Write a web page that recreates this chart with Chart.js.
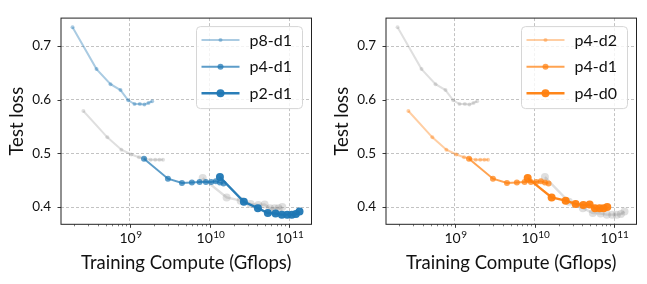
<!DOCTYPE html>
<html>
<head>
<meta charset="utf-8">
<script src="https://cdn.jsdelivr.net/npm/chart.js@4.4.0/dist/chart.umd.min.js"></script>
<style>
  html, body { margin: 0; padding: 0; background: #fff; }
  .wrap { position: absolute; top: 0; width: 322px; height: 284px; }
  #left { left: 0; }
  #right { left: 325px; }
</style>
</head>
<body>
<div class="wrap" id="left"><canvas id="chartLeft"></canvas></div>
<div class="wrap" id="right"><canvas id="chartRight"></canvas></div>
<script>
// data (training compute in Gflops, test loss)
const p8d1X = [1.9e8, 3.8e8, 5.7e8, 7.6e8, 9.5e8, 1.14e9, 1.33e9, 1.52e9, 1.71e9, 1.9e9];
const p8d1Y = [0.735, 0.657, 0.629, 0.618, 0.599, 0.592, 0.592, 0.591, 0.594, 0.597];
const p4d1X = [1.5e9, 3.0e9, 4.5e9, 6.0e9, 7.5e9, 9.0e9, 1.05e10, 1.2e10, 1.35e10, 1.5e10];
const p4d1Y = [0.490, 0.453, 0.445, 0.446, 0.447, 0.447, 0.447, 0.448, 0.446, 0.444];
const p2d1X = [1.35e10, 2.7e10, 4.05e10, 5.4e10, 6.75e10, 8.1e10, 9.45e10, 1.08e11, 1.215e11, 1.35e11];
const p2d1Y = [0.456, 0.410, 0.398, 0.389, 0.388, 0.386, 0.386, 0.386, 0.387, 0.392];
const p4d2X = [2.6e8, 5.2e8, 7.8e8, 1.04e9, 1.3e9, 1.56e9, 1.82e9, 2.08e9, 2.34e9, 2.6e9];
const p4d2Y = [0.579, 0.530, 0.507, 0.498, 0.493, 0.490, 0.488, 0.488, 0.488, 0.488];
const p4d0X = [8.2e9, 1.64e10, 2.46e10, 3.28e10, 4.1e10, 4.92e10, 5.74e10, 6.56e10, 7.38e10, 8.2e10];
const p4d0Y = [0.454, 0.418, 0.412, 0.406, 0.404, 0.405, 0.398, 0.398, 0.398, 0.400];

const xTicks = [1e9, 1e10, 1e11];
const yTicks = [0.4, 0.5, 0.6, 0.7];
const xRange = [1.36e8, 1.91e11];
const yRange = [0.368, 0.752];

const FONT = 'Lato, "Open Sans", sans-serif';
const GREY = 'rgba(140,140,140,0.28)';

function pts(xs, ys) {
    return xs.map((x, i) => ({ x: x, y: ys[i] }));
}

// size of each variant: light / medium / strong
const styles = {
    small: { borderWidth: 2, pointRadius: 2 },
    mid: { borderWidth: 2, pointRadius: 3 },
    big: { borderWidth: 2.4, pointRadius: 4 }
};

function series(label, xs, ys, color, size, order, legend) {
    return {
        label: label,
        data: pts(xs, ys),
        showLine: true,
        borderColor: color,
        backgroundColor: color,
        pointBorderWidth: 0,
        borderWidth: styles[size].borderWidth,
        pointRadius: styles[size].pointRadius,
        order: order,
        inLegend: legend
    };
}

// frame, tick marks, exponent labels and legend box (matplotlib look)
const framePlugin = {
    id: 'frame',
    afterDraw(chart) {
        const { ctx, chartArea: a, scales: { x, y } } = chart;
        ctx.save();
        ctx.strokeStyle = '#222';
        ctx.lineWidth = 0.9;
        // major x ticks + labels
        xTicks.forEach(v => {
            const px = Math.round(x.getPixelForValue(v)) + 0.5;
            ctx.beginPath();
            ctx.moveTo(px, a.bottom);
            ctx.lineTo(px, a.bottom + 3.5);
            ctx.stroke();
            const e = Math.round(Math.log10(v));
            ctx.fillStyle = '#111';
            ctx.textBaseline = 'alphabetic';
            ctx.font = '14px ' + FONT;
            const w1 = ctx.measureText('10').width;
            ctx.font = '10px ' + FONT;
            const w2 = ctx.measureText(String(e)).width;
            const left = px - (w1 + w2) / 2;
            ctx.font = '14px ' + FONT;
            ctx.fillText('10', left, a.bottom + 19);
            ctx.font = '10px ' + FONT;
            ctx.fillText(String(e), left + w1 + 0.5, a.bottom + 14);
        });
        // minor x ticks
        ctx.lineWidth = 0.6;
        for (let k = 8; k <= 11; k++) {
            for (let m = 2; m <= 9; m++) {
                const v = m * Math.pow(10, k);
                if (v < x.min || v > x.max) continue;
                const px = Math.round(x.getPixelForValue(v)) + 0.5;
                ctx.beginPath();
                ctx.moveTo(px, a.bottom);
                ctx.lineTo(px, a.bottom + 2);
                ctx.stroke();
            }
        }
        // y ticks
        ctx.lineWidth = 0.9;
        yTicks.forEach(v => {
            const py = Math.round(y.getPixelForValue(v)) + 0.5;
            ctx.beginPath();
            ctx.moveTo(a.left - 3.5, py);
            ctx.lineTo(a.left, py);
            ctx.stroke();
        });
        // frame
        ctx.lineWidth = 1;
        ctx.strokeRect(a.left, a.top, a.right - a.left, a.bottom - a.top);

        // legend
        const items = chart.data.datasets.filter(d => d.inLegend);
        const bw = 106, bh = 82;
        const bx = a.right - 9 - bw, by = a.top + 8.5;
        ctx.beginPath();
        ctx.roundRect(bx, by, bw, bh, 4);
        ctx.fillStyle = 'rgba(255,255,255,0.8)';
        ctx.fill();
        ctx.strokeStyle = '#d6d6d6';
        ctx.lineWidth = 1;
        ctx.stroke();
        items.forEach((d, i) => {
            const cy = by + 13.5 + i * 26.6;
            ctx.strokeStyle = d.borderColor;
            ctx.lineWidth = d.borderWidth;
            ctx.beginPath();
            ctx.moveTo(bx + 5, cy);
            ctx.lineTo(bx + 43, cy);
            ctx.stroke();
            ctx.fillStyle = d.backgroundColor;
            ctx.beginPath();
            ctx.arc(bx + 24, cy, d.pointRadius, 0, Math.PI * 2);
            ctx.fill();
            ctx.fillStyle = '#111';
            ctx.font = '16px ' + FONT;
            ctx.textBaseline = 'middle';
            ctx.fillText(d.label, bx + 53, cy + 0.5);
        });
        ctx.restore();
    }
};

function makeOptions() {
    return {
        responsive: true,
        maintainAspectRatio: false,
        animation: false,
        layout: { padding: { top: 9.3, right: 10.5, left: 0, bottom: 0 } },
        plugins: { legend: { display: false }, tooltip: { enabled: false } },
        scales: {
            x: {
                type: 'logarithmic',
                min: xRange[0],
                max: xRange[1],
                afterBuildTicks: s => { s.ticks = xTicks.map(v => ({ value: v })); },
                afterFit: s => { s.height = 59.7; },
                ticks: { callback: () => '', padding: 0, autoSkip: false },
                grid: { color: '#b4b4b4', lineWidth: 0.8, drawTicks: false },
                border: { display: false, dash: [3, 2] },
                title: {
                    display: true,
                    text: 'Training Compute (Gflops)',
                    color: '#111',
                    font: { family: FONT, size: 18.5 },
                    padding: { top: 0, bottom: 10 }
                }
            },
            y: {
                min: yRange[0],
                max: yRange[1],
                afterBuildTicks: s => { s.ticks = yTicks.map(v => ({ value: v })); },
                afterFit: s => { s.width = 61; },
                ticks: {
                    color: '#111',
                    padding: 10,
                    font: { family: FONT, size: 13.5 },
                    callback: v => v.toFixed(1)
                },
                grid: { color: '#b4b4b4', lineWidth: 0.8, drawTicks: false },
                border: { display: false, dash: [3, 2] },
                title: {
                    display: true,
                    text: 'Test loss',
                    color: '#111',
                    font: { family: FONT, size: 18.5 },
                    padding: { top: 6, bottom: 0 }
                }
            }
        }
    };
}

new Chart(document.getElementById('chartLeft'), {
    type: 'scatter',
    data: {
        datasets: [
            series('p8-d1', p8d1X, p8d1Y, 'rgba(31,119,180,0.38)', 'small', 3, true),
            series('p4-d1', p4d1X, p4d1Y, 'rgba(31,119,180,0.72)', 'mid', 2, true),
            series('p2-d1', p2d1X, p2d1Y, 'rgba(31,119,180,0.95)', 'big', 1, true),
            series('p4-d2', p4d2X, p4d2Y, GREY, 'small', 5, false),
            series('p4-d0', p4d0X, p4d0Y, GREY, 'big', 4, false)
        ]
    },
    options: makeOptions(),
    plugins: [framePlugin]
});

new Chart(document.getElementById('chartRight'), {
    type: 'scatter',
    data: {
        datasets: [
            series('p4-d2', p4d2X, p4d2Y, 'rgba(255,127,14,0.38)', 'small', 3, true),
            series('p4-d1', p4d1X, p4d1Y, 'rgba(255,127,14,0.72)', 'mid', 2, true),
            series('p4-d0', p4d0X, p4d0Y, 'rgba(255,127,14,0.95)', 'big', 1, true),
            series('p8-d1', p8d1X, p8d1Y, GREY, 'small', 5, false),
            series('p2-d1', p2d1X, p2d1Y, GREY, 'big', 4, false)
        ]
    },
    options: makeOptions(),
    plugins: [framePlugin]
});
</script>
</body>
</html>
